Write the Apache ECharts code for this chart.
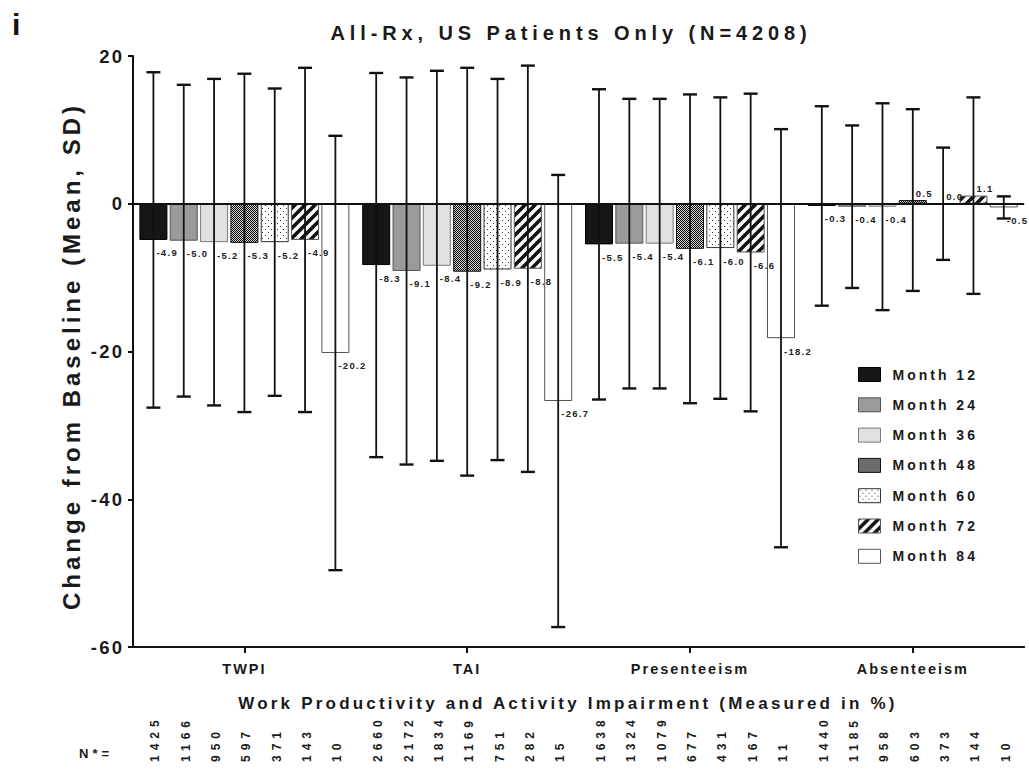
<!DOCTYPE html>
<html><head><meta charset="utf-8">
<script src="https://cdn.jsdelivr.net/npm/echarts@6/dist/echarts.min.js"></script>
<style>html,body{margin:0;padding:0;background:#fff}#c{width:1029px;height:772px}#c svg image{image-rendering:pixelated}</style>
</head><body><div id="c"></div>
<script>
// ---------------- DATA ----------------
const categories = ['TWPI', 'TAI', 'Presenteeism', 'Absenteeism'];
const monthNames = ['Month 12', 'Month 24', 'Month 36', 'Month 48', 'Month 60', 'Month 72', 'Month 84'];

// mean change from baseline, per month, across categories
const mean12 = [-4.9, -8.3, -5.5, -0.3];
const mean24 = [-5.0, -9.1, -5.4, -0.4];
const mean36 = [-5.2, -8.4, -5.4, -0.4];
const mean48 = [-5.3, -9.2, -6.1, 0.5];
const mean60 = [-5.2, -8.9, -6.0, 0.0];
const mean72 = [-4.9, -8.8, -6.6, 1.1];
const mean84 = [-20.2, -26.7, -18.2, -0.5];

// standard deviations (error bars), per month, across categories
const sd12 = [22.7, 26.0, 21.0, 13.5];
const sd24 = [21.1, 26.2, 19.6, 11.0];
const sd36 = [22.1, 26.4, 19.6, 14.0];
const sd48 = [22.9, 27.6, 20.9, 12.3];
const sd60 = [20.8, 25.8, 20.4, 7.6];
const sd72 = [23.3, 27.5, 21.5, 13.3];
const sd84 = [29.4, 30.6, 28.3, 1.5];

// N* per month, across categories
const n12 = [1425, 2660, 1638, 1440];
const n24 = [1166, 2172, 1324, 1185];
const n36 = [950, 1834, 1079, 958];
const n48 = [597, 1169, 677, 603];
const n60 = [371, 751, 431, 373];
const n72 = [143, 282, 167, 144];
const n84 = [10, 15, 11, 10];

// y axis ticks
const yMin = -60, yMax = 20, yStep = 20;

const meanData = [mean12, mean24, mean36, mean48, mean60, mean72, mean84];
const sdData = [sd12, sd24, sd36, sd48, sd60, sd72, sd84];
const nData = [n12, n24, n36, n48, n60, n72, n84];

// ---------------- STYLE ----------------
const FONT = '"Liberation Sans", Arial, Helvetica, sans-serif';
const TXT = '#1a1a1a';
const BAR_W = 28;
const GAP_PX = 2.33;
const STEP = BAR_W + GAP_PX;
const SPACING = {30: 0, 20: 4.9, 24: 4, 17: 3.2, 18.5: 2.2, 14.5: 2, 14: 3, 9.5: 1.3, 12: 5, 13: 4};

function makePattern(w, h, draw) {
  const c = document.createElement('canvas');
  c.width = w; c.height = h;
  const g = c.getContext('2d');
  draw(g);
  return {image: c.toDataURL(), repeat: 'repeat', imageWidth: w, imageHeight: h};
}
const checker = makePattern(2, 2, g => {
  g.fillStyle = '#d8d8d8'; g.fillRect(0, 0, 2, 2);
  g.fillStyle = '#000'; g.fillRect(0, 0, 1, 1); g.fillRect(1, 1, 1, 1);
});
const dots = makePattern(6, 6, g => {
  g.fillStyle = '#fff'; g.fillRect(0, 0, 6, 6);
  g.fillStyle = '#333'; g.fillRect(1, 1, 1, 1); g.fillRect(4, 4, 1, 1);
});
const stripes = makePattern(10, 10, g => {
  g.fillStyle = '#fff'; g.fillRect(0, 0, 10, 10);
  g.strokeStyle = '#111'; g.lineWidth = 3.6;
  g.beginPath();
  g.moveTo(-5, 5); g.lineTo(5, -5);
  g.moveTo(0, 10); g.lineTo(10, 0);
  g.moveTo(5, 15); g.lineTo(15, 5);
  g.stroke();
});

const fills = ['#161616', '#9a9a9a', '#e0e0e0', checker, dots, stripes, '#ffffff'];
const borders = ['#000', '#555', '#7a7a7a', '#111', '#333', '#555', '#555'];

const barSeries = monthNames.map((name, si) => ({
  name,
  type: 'bar',
  barWidth: BAR_W,
  barGap: (GAP_PX / BAR_W * 100).toFixed(2) + '%',
  animation: false,
  z: 2,
  itemStyle: {color: fills[si], borderColor: borders[si], borderWidth: 1},
  label: {
    show: true,
    align: 'left',
    offset: [3, 0],
    fontFamily: FONT, fontSize: 9.5, fontWeight: 'bold', color: '#222',
    formatter: p => Number(p.value).toFixed(1)
  },
  data: meanData[si].map(v => ({
    value: v,
    label: v < 0 ? {position: 'bottom', distance: 8} : {position: 'top', distance: 2}
  })),
  markLine: si === 0 ? {
    silent: true, animation: false, symbol: ['none', 'none'],
    label: {show: false},
    lineStyle: {color: '#111', width: 2, type: 'solid'},
    emphasis: {disabled: true},
    data: [{yAxis: 0}]
  } : undefined
}));

const errData = [];
const nItems = [];
monthNames.forEach((_, si) => categories.forEach((_, ci) => {
  errData.push([ci, meanData[si][ci], si, sdData[si][ci]]);
  nItems.push([ci, yMin, si, nData[si][ci]]);
}));

const errorSeries = {
  type: 'custom', name: 'SD', data: errData, z: 6, clip: false, silent: true, animation: false,
  encode: {x: 0, y: 1},
  renderItem(params, api) {
    const ci = api.value(0), m = api.value(1), si = api.value(2), sd = api.value(3);
    const x = api.coord([ci, m])[0] + (si - 3) * STEP;
    const yT = api.coord([ci, m + sd])[1];
    const yB = api.coord([ci, m - sd])[1];
    const st = {stroke: '#111', lineWidth: 1.8};
    const cap = {stroke: '#111', lineWidth: 2.4};
    return {type: 'group', children: [
      {type: 'line', shape: {x1: x, y1: yT, x2: x, y2: yB}, style: st},
      {type: 'line', shape: {x1: x - 7, y1: yT, x2: x + 7, y2: yT}, style: cap},
      {type: 'line', shape: {x1: x - 7, y1: yB, x2: x + 7, y2: yB}, style: cap}
    ]};
  }
};

const nSeries = {
  type: 'custom', name: 'N', data: nItems, z: 6, clip: false, silent: true, animation: false,
  encode: {x: 0, y: 1},
  renderItem(params, api) {
    const ci = api.value(0), si = api.value(2), n = api.value(3);
    const p = api.coord([ci, api.value(1)]);
    return {
      type: 'text', x: p[0] + (si - 3) * STEP + 2, y: p[1] + 115, rotation: Math.PI / 2,
      style: {text: String(n), fill: TXT, font: 'bold 12px ' + FONT, align: 'left', verticalAlign: 'middle'}
    };
  }
};

const chart = echarts.init(document.getElementById('c'), null, {renderer: 'svg'});
chart.setOption({
  animation: false,
  backgroundColor: '#fff',
  grid: {left: 133, right: 4.8, top: 56, bottom: 125, containLabel: false, outerBoundsMode: 'none'},
  xAxis: {
    type: 'category', data: categories,
    axisLine: {onZero: false, lineStyle: {color: '#111', width: 2}},
    axisTick: {show: true, alignWithLabel: true, length: 6, lineStyle: {color: '#111', width: 2}},
    axisLabel: {margin: 14, fontFamily: FONT, fontSize: 14.5, fontWeight: 'bold', color: TXT},
    splitLine: {show: false}
  },
  yAxis: {
    type: 'value', min: yMin, max: yMax, interval: yStep,
    axisLine: {show: true, lineStyle: {color: '#111', width: 2}},
    axisTick: {show: true, length: 5, lineStyle: {color: '#111', width: 2}},
    axisLabel: {margin: 8.8, fontFamily: FONT, fontSize: 18.5, fontWeight: 'bold', color: TXT},
    splitLine: {show: false}
  },
  legend: {
    data: monthNames, orient: 'vertical', left: 858, top: 367, padding: 0,
    itemWidth: 22, itemHeight: 14, itemGap: 15.3, icon: 'rect',
    itemStyle: {borderWidth: 1},
    selectedMode: false,
    textStyle: {fontFamily: FONT, fontSize: 14, fontWeight: 'bold', color: TXT, padding: [0, 0, 0, 7]}
  },
  graphic: [
    {type: 'text', x: 12, y: 24, style: {text: 'i', font: 'bold 30px ' + FONT, fill: '#111', align: 'left', verticalAlign: 'middle'}},
    {type: 'text', x: 571, y: 33, style: {text: 'All-Rx, US Patients Only (N=4208)', font: 'bold 20px ' + FONT, fill: TXT, align: 'center', verticalAlign: 'middle'}},
    {type: 'text', x: 71, y: 356, rotation: Math.PI / 2, style: {text: 'Change from Baseline (Mean, SD)', font: 'bold 24px ' + FONT, fill: TXT, align: 'center', verticalAlign: 'middle'}},
    {type: 'text', x: 568, y: 703, style: {text: 'Work Productivity and Activity Impairment (Measured in %)', font: 'bold 17px ' + FONT, fill: TXT, align: 'center', verticalAlign: 'middle'}},
    {type: 'text', x: 79, y: 753, style: {text: 'N*=', font: 'bold 13px ' + FONT, fill: TXT, align: 'left', verticalAlign: 'middle'}}
  ],
  series: [...barSeries, errorSeries, nSeries]
});

function applySpacing() {
  document.querySelectorAll('#c text').forEach(t => {
    const fs = parseFloat(getComputedStyle(t).fontSize);
    const s = SPACING[fs];
    if (s != null) t.style.letterSpacing = s + 'px';
  });
}
applySpacing();
chart.on('finished', applySpacing);
</script>
</body></html>
